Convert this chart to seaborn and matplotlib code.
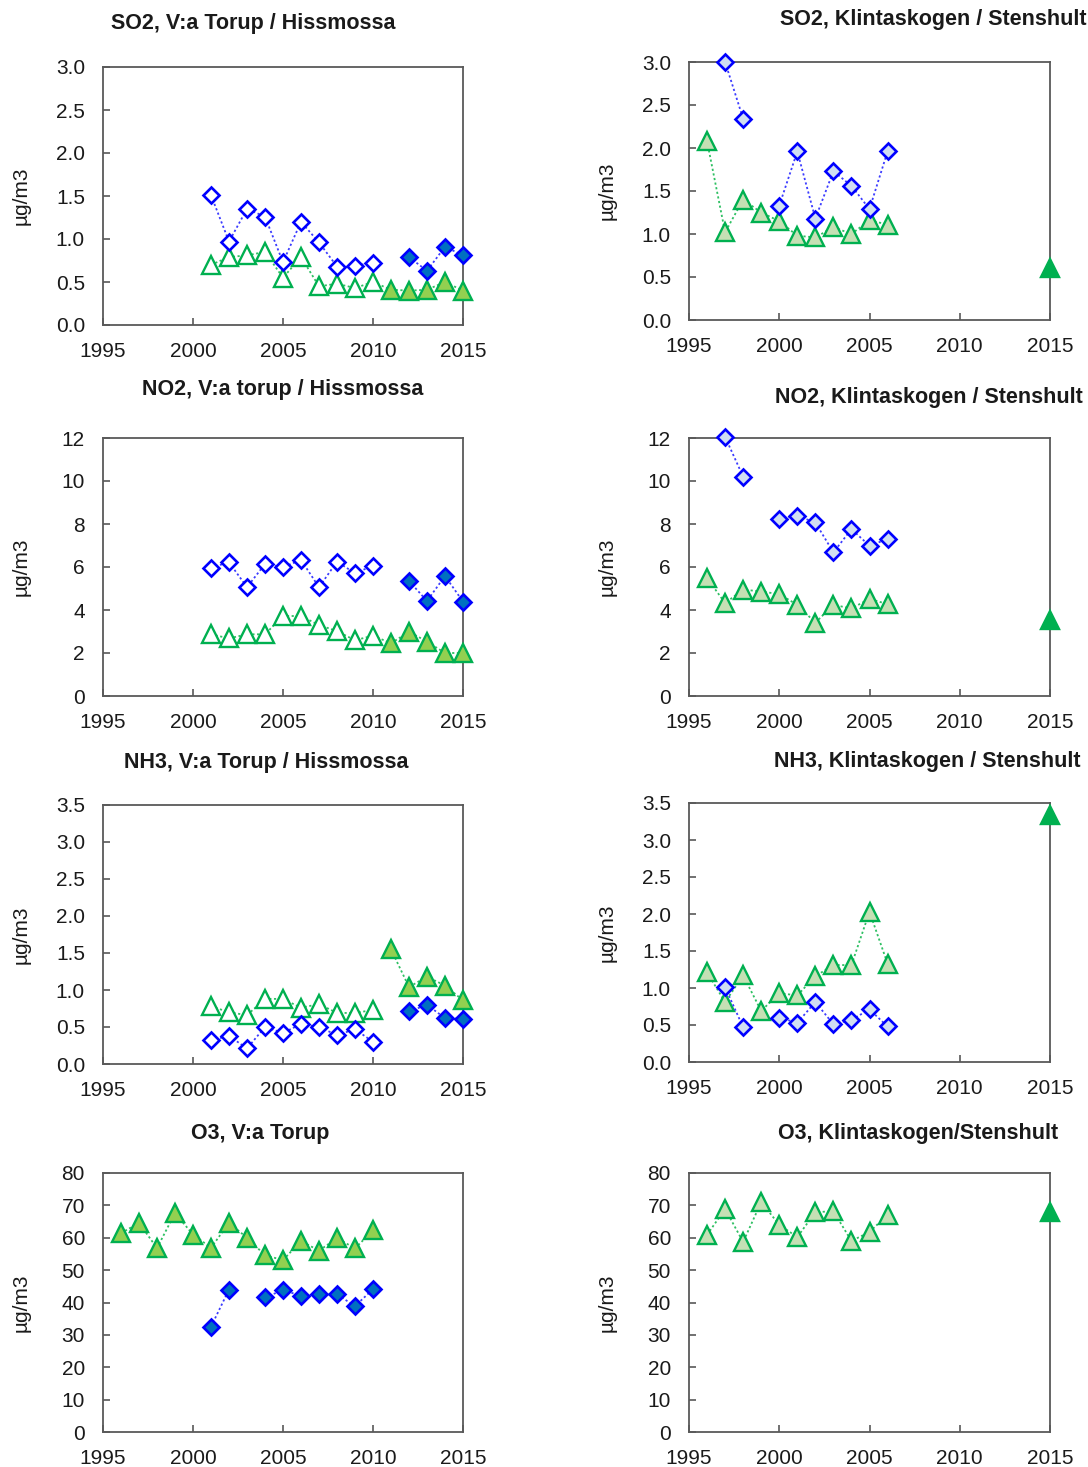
import numpy as np
import pandas as pd
import matplotlib
matplotlib.use("Agg")
import matplotlib.pyplot as plt
import seaborn as sns

sns.set_theme(style="white")
plt.rcParams['font.family'] = ['Liberation Sans', 'DejaVu Sans']

# ---------------- data ----------------
years_torup = list(range(2001, 2011))
years_hiss_tri = list(range(2011, 2016))
years_hiss_dia = list(range(2012, 2016))
years_klint_tri = list(range(1996, 2007))
years_klint_dia = list(range(1997, 2007))
year_stenshult = [2015]
years_o3_torup_tri = list(range(1996, 2011))

so2_torup_dia = [1.51, 0.97, 1.35, 1.26, 0.73, 1.20, 0.96, 0.68, 0.69, 0.72]
so2_hiss_dia = [0.79, 0.63, 0.91, 0.81]
so2_torup_tri = [0.70, 0.79, 0.81, 0.85, 0.55, 0.79, 0.45, 0.48, 0.43, 0.50]
so2_hiss_tri = [0.41, 0.40, 0.41, 0.50, 0.40]

so2_klint_tri = [2.08, 1.02, 1.40, 1.25, 1.15, 0.98, 0.96, 1.08, 1.00, 1.16, 1.11]
so2_klint_dia = [3.00, 2.34, np.nan, 1.33, 1.96, 1.18, 1.73, 1.56, 1.29, 1.96]
so2_stenshult = [0.60]

no2_torup_dia = [5.97, 6.22, 5.06, 6.14, 5.99, 6.33, 5.06, 6.25, 5.71, 6.06]
no2_hiss_dia = [5.35, 4.42, 5.58, 4.39]
no2_torup_tri = [2.87, 2.68, 2.87, 2.87, 3.72, 3.72, 3.30, 3.02, 2.59, 2.81]
no2_hiss_tri = [2.45, 2.99, 2.53, 2.00, 2.00]

no2_klint_tri = [5.49, 4.32, 4.95, 4.86, 4.74, 4.24, 3.41, 4.24, 4.07, 4.52, 4.27]
no2_klint_dia = [12.05, 10.2, np.nan, 8.23, 8.38, 8.07, 6.68, 7.76, 6.99, 7.30]
no2_stenshult = [3.53]

nh3_torup_dia = [0.32, 0.38, 0.21, 0.50, 0.42, 0.54, 0.50, 0.39, 0.47, 0.30]
nh3_hiss_dia = [0.71, 0.80, 0.62, 0.61]
nh3_torup_tri = [0.78, 0.70, 0.66, 0.88, 0.88, 0.76, 0.81, 0.69, 0.69, 0.73]
nh3_hiss_tri = [1.55, 1.04, 1.18, 1.06, 0.86]

nh3_klint_tri = [1.21, 0.81, 1.17, 0.69, 0.93, 0.90, 1.16, 1.31, 1.31, 2.03, 1.33]
nh3_klint_dia = [1.01, 0.47, np.nan, 0.60, 0.53, 0.81, 0.51, 0.57, 0.71, 0.48]
nh3_stenshult = [3.34]

o3_torup_tri = [61.4, 64.6, 56.8, 67.6, 61.0, 56.9, 64.6, 60.0, 54.6, 53.1,
                59.0, 56.0, 59.9, 56.7, 62.3]
o3_torup_dia = [32.5, 44.0, np.nan, 41.6, 43.8, 42.1, 42.5, 42.5, 38.9, 44.1]

o3_klint_tri = [60.9, 68.9, 58.7, 71.0, 64.0, 60.2, 67.9, 68.2, 59.0, 61.8, 67.1]
o3_stenshult = [67.8]

titles = [
    "SO2, V:a Torup / Hissmossa", "SO2, Klintaskogen / Stenshult",
    "NO2, V:a torup / Hissmossa", "NO2, Klintaskogen / Stenshult",
    "NH3, V:a Torup / Hissmossa", "NH3, Klintaskogen / Stenshult",
    "O3, V:a Torup", "O3, Klintaskogen/Stenshult",
]
ylabel = "µg/m3"

# ---------------- styles ----------------
BLUE_EDGE = "#0000FF"
BLUE_LINE = "#3C3CFF"
BLUE_FILL = "#0070C0"
BLUE_LIGHT = "#D0DEF2"
GREEN_EDGE = "#00B050"
GREEN_LINE = "#2FC063"
GREEN_FILL = "#92D050"
GREEN_LIGHT = "#C5E0B4"
SPINE = "#595959"
DOT = (0, (1.2, 1.4))

DIA = dict(marker="D", markersize=8.6, markeredgewidth=1.9)
TRI = dict(marker="^", markersize=12.8, markeredgewidth=1.7)

W, H = 1088, 1467
fig = plt.figure(figsize=(W / 100, H / 100), dpi=100)


def add_axes(left, top, right, bottom):
    return fig.add_axes([left / W, 1 - bottom / H, (right - left) / W, (bottom - top) / H])


def series(ax, years, values, mstyle, face, edge, line_color, z=3):
    """Draw one series, breaking the dotted line at missing values."""
    df = pd.DataFrame({"year": years, "value": values})
    seg = df["value"].isna().cumsum()
    df = df.assign(seg=seg).dropna()
    for _, part in df.groupby("seg"):
        sns.lineplot(data=part, x="year", y="value", ax=ax, sort=False,
                     estimator=None, color=line_color, linestyle=DOT,
                     linewidth=1.3, markerfacecolor=face, markeredgecolor=edge,
                     clip_on=False, zorder=z, **mstyle)


def connector(ax, x0, y0, x1, y1, line_color):
    sns.lineplot(x=[x0, x1], y=[y0, y1], ax=ax, color=line_color,
                 linestyle=DOT, linewidth=1.3, zorder=2, clip_on=False)


def style_axes(ax, ymax, ystep, fmt):
    ax.set_xlim(1995, 2015)
    ax.set_ylim(0, ymax)
    ax.set_xticks(range(1995, 2016, 5))
    yt = np.arange(0, ymax + ystep / 2, ystep)
    ax.set_yticks(yt)
    ax.set_yticklabels([fmt.format(v) for v in yt])
    ax.set_xlabel("")
    ax.set_ylabel(ylabel, fontsize=15, color="#1a1a1a")
    ax.yaxis.set_label_coords(-0.200, 0.5)
    for sp in ax.spines.values():
        sp.set_visible(True)
        sp.set_color(SPINE)
        sp.set_linewidth(1.3)
    ax.tick_params(axis="both", direction="in", length=5, width=1.2,
                   color=SPINE, labelsize=15, labelcolor="#1a1a1a")
    ax.tick_params(axis="y", pad=13, left=True)
    ax.tick_params(axis="x", pad=12, bottom=True)
    ax.grid(False)
    ax.set_facecolor("white")


boxes_left = (103, 463)
boxes_right = (689, 1050)

# ---- SO2 Torup / Hissmossa ----
ax = add_axes(boxes_left[0], 67, boxes_left[1], 325)
connector(ax, years_torup[-1], so2_torup_tri[-1], years_hiss_tri[0], so2_hiss_tri[0], GREEN_LINE)
series(ax, years_torup, so2_torup_tri, TRI, "white", GREEN_EDGE, GREEN_LINE)
series(ax, years_hiss_tri, so2_hiss_tri, TRI, GREEN_FILL, GREEN_EDGE, GREEN_LINE)
series(ax, years_torup, so2_torup_dia, DIA, "white", BLUE_EDGE, BLUE_LINE, z=4)
series(ax, years_hiss_dia, so2_hiss_dia, DIA, BLUE_FILL, BLUE_EDGE, BLUE_LINE, z=4)
style_axes(ax, 3.0, 0.5, "{:.1f}")

# ---- SO2 Klintaskogen / Stenshult ----
ax = add_axes(boxes_right[0], 62, boxes_right[1], 320)
series(ax, years_klint_tri, so2_klint_tri, TRI, GREEN_LIGHT, GREEN_EDGE, GREEN_LINE)
series(ax, years_klint_dia, so2_klint_dia, DIA, BLUE_LIGHT, BLUE_EDGE, BLUE_LINE, z=4)
series(ax, year_stenshult, so2_stenshult, TRI, GREEN_EDGE, GREEN_EDGE, GREEN_LINE)
style_axes(ax, 3.0, 0.5, "{:.1f}")

# ---- NO2 Torup / Hissmossa ----
ax = add_axes(boxes_left[0], 438, boxes_left[1], 696)
connector(ax, years_torup[-1], no2_torup_tri[-1], years_hiss_tri[0], no2_hiss_tri[0], GREEN_LINE)
series(ax, years_torup, no2_torup_tri, TRI, "white", GREEN_EDGE, GREEN_LINE)
series(ax, years_hiss_tri, no2_hiss_tri, TRI, GREEN_FILL, GREEN_EDGE, GREEN_LINE)
series(ax, years_torup, no2_torup_dia, DIA, "white", BLUE_EDGE, BLUE_LINE, z=4)
series(ax, years_hiss_dia, no2_hiss_dia, DIA, BLUE_FILL, BLUE_EDGE, BLUE_LINE, z=4)
style_axes(ax, 12, 2, "{:.0f}")

# ---- NO2 Klintaskogen / Stenshult ----
ax = add_axes(boxes_right[0], 438, boxes_right[1], 696)
series(ax, years_klint_tri, no2_klint_tri, TRI, GREEN_LIGHT, GREEN_EDGE, GREEN_LINE)
series(ax, years_klint_dia, no2_klint_dia, DIA, BLUE_LIGHT, BLUE_EDGE, BLUE_LINE, z=4)
series(ax, year_stenshult, no2_stenshult, TRI, GREEN_EDGE, GREEN_EDGE, GREEN_LINE)
style_axes(ax, 12, 2, "{:.0f}")

# ---- NH3 Torup / Hissmossa ----
ax = add_axes(boxes_left[0], 805, boxes_left[1], 1064)
series(ax, years_torup, nh3_torup_tri, TRI, "white", GREEN_EDGE, GREEN_LINE)
series(ax, years_hiss_tri, nh3_hiss_tri, TRI, GREEN_FILL, GREEN_EDGE, GREEN_LINE)
series(ax, years_torup, nh3_torup_dia, DIA, "white", BLUE_EDGE, BLUE_LINE, z=4)
series(ax, years_hiss_dia, nh3_hiss_dia, DIA, BLUE_FILL, BLUE_EDGE, BLUE_LINE, z=4)
style_axes(ax, 3.5, 0.5, "{:.1f}")

# ---- NH3 Klintaskogen / Stenshult ----
ax = add_axes(boxes_right[0], 803, boxes_right[1], 1062)
series(ax, years_klint_tri, nh3_klint_tri, TRI, GREEN_LIGHT, GREEN_EDGE, GREEN_LINE)
series(ax, years_klint_dia, nh3_klint_dia, DIA, BLUE_LIGHT, BLUE_EDGE, BLUE_LINE, z=4)
series(ax, year_stenshult, nh3_stenshult, TRI, GREEN_EDGE, GREEN_EDGE, GREEN_LINE)
style_axes(ax, 3.5, 0.5, "{:.1f}")

# ---- O3 Torup ----
ax = add_axes(boxes_left[0], 1173, boxes_left[1], 1432)
series(ax, years_o3_torup_tri, o3_torup_tri, TRI, GREEN_FILL, GREEN_EDGE, GREEN_LINE)
series(ax, years_torup, o3_torup_dia, DIA, BLUE_FILL, BLUE_EDGE, BLUE_LINE, z=4)
style_axes(ax, 80, 10, "{:.0f}")

# ---- O3 Klintaskogen / Stenshult ----
ax = add_axes(boxes_right[0], 1173, boxes_right[1], 1432)
series(ax, years_klint_tri, o3_klint_tri, TRI, GREEN_LIGHT, GREEN_EDGE, GREEN_LINE)
series(ax, year_stenshult, o3_stenshult, TRI, GREEN_EDGE, GREEN_EDGE, GREEN_LINE)
style_axes(ax, 80, 10, "{:.0f}")

# ---- panel titles ----
title_pos = [(253, 23), (933, 20), (283, 390), (929, 397),
             (266, 763), (927, 762), (260, 1133), (918, 1133)]
for t, (x, y) in zip(titles, title_pos):
    fig.text(x / W, 1 - y / H, t, ha="center", va="center",
             fontsize=15.5, fontweight="bold", color="#1a1a1a")

fig.savefig("out.png", dpi=100, facecolor="white")
